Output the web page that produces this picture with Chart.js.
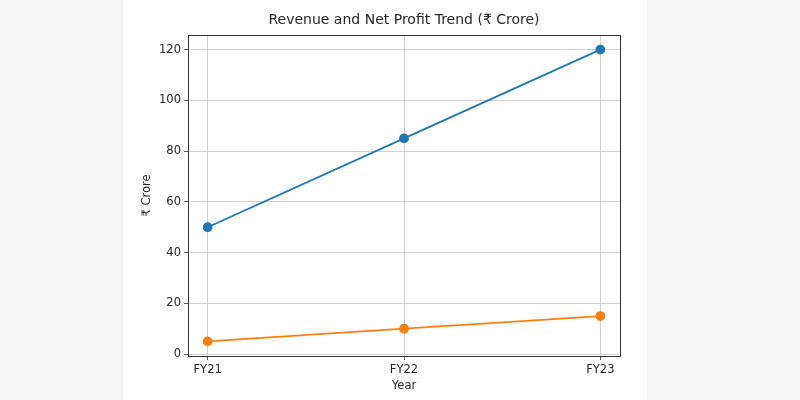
<!DOCTYPE html>
<html>
<head>
<meta charset="utf-8">
<script src="https://cdn.jsdelivr.net/npm/chart.js@4.4.0/dist/chart.umd.min.js"></script>
<style>
  html, body { margin: 0; padding: 0; background: #f6f6f6; }
  #wrap { width: 800px; height: 400px; position: relative; }
</style>
</head>
<body>
<div id="wrap"><canvas id="trendChart" width="800" height="400"></canvas></div>
<script>
const years = ['FY21', 'FY22', 'FY23'];
const revenue = [50, 85, 120];
const netProfit = [5, 10, 15];
const yTicks = [0, 20, 40, 60, 80, 100, 120];

const FONT = "'DejaVu Sans', sans-serif";
const TEXT = '#262626';

// pale page behind, white figure panel, axes frame and title
const figurePlugin = {
    id: 'figure',
    beforeDraw(chart) {
        const c = chart.ctx;
        c.save();
        c.fillStyle = '#f6f6f6';
        c.fillRect(0, 0, chart.width, chart.height);
        c.fillStyle = '#ffffff';
        c.fillRect(123, 0, 524, chart.height);
        c.restore();
    },
    afterDraw(chart) {
        const a = chart.chartArea;
        const c = chart.ctx;
        c.save();
        c.strokeStyle = '#333333';
        c.lineWidth = 1;
        c.strokeRect(Math.round(a.left) + 0.5, Math.round(a.top) + 0.5,
            Math.round(a.right - a.left), Math.round(a.bottom - a.top));
        c.fillStyle = TEXT;
        c.font = '14px ' + FONT;
        c.textAlign = 'center';
        c.textBaseline = 'middle';
        c.fillText('Revenue and Net Profit Trend (₹ Crore)', (a.left + a.right) / 2, 20);
        c.restore();
    }
};

const toPoints = arr => arr.map((v, i) => ({ x: i, y: v }));

new Chart(document.getElementById('trendChart'), {
    type: 'line',
    data: {
        datasets: [{
            label: 'Revenue',
            data: toPoints(revenue),
            borderColor: '#1f77b4',
            backgroundColor: '#1f77b4',
            borderWidth: 1.8,
            pointRadius: 4,
            pointHoverRadius: 4,
            tension: 0
        }, {
            label: 'Net Profit',
            data: toPoints(netProfit),
            borderColor: '#ff7f0e',
            backgroundColor: '#ff7f0e',
            borderWidth: 1.8,
            pointRadius: 4,
            pointHoverRadius: 4,
            tension: 0
        }]
    },
    options: {
        responsive: false,
        animation: false,
        layout: { padding: { left: 130, right: 180, top: 35, bottom: 0 } },
        plugins: {
            legend: { display: false },
            title: { display: false },
            tooltip: { enabled: false }
        },
        scales: {
            x: {
                type: 'linear',
                min: -0.1,
                max: 2.1,
                afterBuildTicks: axis => { axis.ticks = years.map((_, i) => ({ value: i })); },
                afterFit: axis => { axis.height = 44; },
                grid: { color: '#c6c6c6', lineWidth: 0.8, tickLength: 4, tickColor: '#333333', drawOnChartArea: true },
                border: { display: false },
                ticks: {
                    color: TEXT,
                    font: { family: FONT, size: 11.5 },
                    padding: 3,
                    maxRotation: 0,
                    callback: v => years[v]
                },
                title: {
                    display: true,
                    text: 'Year',
                    color: TEXT,
                    font: { family: FONT, size: 11.5 },
                    padding: { top: 7, bottom: 7 }
                }
            },
            y: {
                min: -0.75,
                max: 125.75,
                afterBuildTicks: axis => { axis.ticks = yTicks.map(v => ({ value: v })); },
                afterFit: axis => { axis.width = 58; },
                grid: { color: '#c6c6c6', lineWidth: 0.8, tickLength: 4, tickColor: '#333333' },
                border: { display: false },
                ticks: {
                    color: TEXT,
                    font: { family: FONT, size: 11.5 },
                    padding: 3
                },
                title: {
                    display: true,
                    text: '₹ Crore',
                    color: TEXT,
                    font: { family: FONT, size: 11.5 },
                    padding: { top: 10, bottom: 10 }
                }
            }
        }
    },
    plugins: [figurePlugin]
});
</script>
</body>
</html>
